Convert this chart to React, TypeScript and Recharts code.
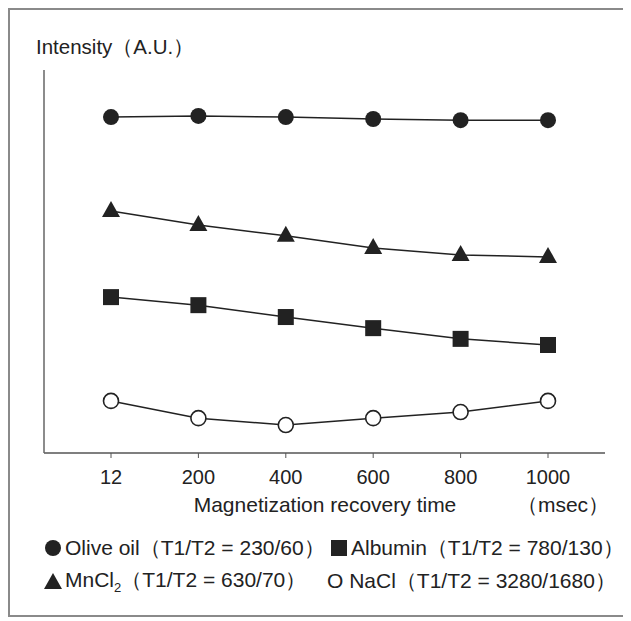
import React from "react";
import { LineChart, Line, XAxis, YAxis } from "recharts";

const times = ["12", "200", "400", "600", "800", "1000"];
const oliveOil = [87.7, 88.0, 87.7, 87.2, 86.9, 86.9];
const mnCl2 = [63.2, 59.5, 56.7, 53.5, 51.7, 51.2];
const albumin = [40.7, 38.6, 35.5, 32.6, 29.8, 28.2];
const naCl = [13.6, 9.1, 7.3, 9.1, 10.7, 13.6];

const data = times.map((t, i) => ({
  time: t,
  olive: oliveOil[i],
  mncl2: mnCl2[i],
  albumin: albumin[i],
  nacl: naCl[i],
}));

const ink = "#222";
const font = "'Liberation Sans', Arial, sans-serif";

const FilledCircle = (p: any) => (
  <circle key={p.index} cx={p.cx} cy={p.cy} r={8} fill={ink} />
);
const Square = (p: any) => (
  <rect key={p.index} x={p.cx - 8} y={p.cy - 8} width={16} height={16} fill={ink} />
);
const Triangle = (p: any) => (
  <path
    key={p.index}
    d={`M${p.cx},${p.cy - 10} L${p.cx + 9},${p.cy + 6} L${p.cx - 9},${p.cy + 6} Z`}
    fill={ink}
  />
);
const OpenCircle = (p: any) => (
  <circle key={p.index} cx={p.cx} cy={p.cy} r={7.5} fill="#fff" stroke={ink} strokeWidth={1.6} />
);

const XTitle = (props: any) => {
  const { x, y } = props.viewBox;
  return (
    <g fontFamily={font} fontSize={21} fill={ink}>
      <text x={x + 281} y={y + 59} textAnchor="middle">
        Magnetization recovery time
      </text>
      <text x={x + 519} y={y + 59} textAnchor="middle">
        （msec）
      </text>
    </g>
  );
};

const YTitle = (props: any) => {
  const { x, y } = props.viewBox;
  return (
    <text x={x + 2} y={y - 16} fontFamily={font} fontSize={20.5} fill={ink}>
      Intensity（A.U.）
    </text>
  );
};

const legendText: React.CSSProperties = {
  position: "absolute",
  fontFamily: font,
  fontSize: 21,
  color: ink,
  whiteSpace: "nowrap",
  display: "flex",
  alignItems: "center",
  height: 26,
};

export default function App() {
  return (
    <div
      style={{
        position: "relative",
        width: 621,
        height: 609,
        boxSizing: "border-box",
        border: "2px solid #8a8a8a",
        background: "#fff",
      }}
    >
      <LineChart
        width={617}
        height={520}
        data={data}
        margin={{ top: 60, right: 22, left: 24, bottom: 0 }}
      >
        <XAxis
          dataKey="time"
          height={77}
          padding={{ left: 67, right: 57 }}
          axisLine={{ stroke: "#555", strokeWidth: 1.5 }}
          tickLine={{ stroke: "#555" }}
          tickSize={5}
          tickMargin={12}
          tick={{ fontSize: 20, fill: ink, fontFamily: font }}
          label={<XTitle />}
        />
        <YAxis
          width={10}
          domain={[0, 100]}
          tick={false}
          tickLine={false}
          axisLine={{ stroke: "#666", strokeWidth: 1.5 }}
          label={<YTitle />}
        />
        <Line dataKey="olive" stroke={ink} strokeWidth={1.5} dot={FilledCircle} isAnimationActive={false} />
        <Line dataKey="mncl2" stroke={ink} strokeWidth={1.5} dot={Triangle} isAnimationActive={false} />
        <Line dataKey="albumin" stroke={ink} strokeWidth={1.5} dot={Square} isAnimationActive={false} />
        <Line dataKey="nacl" stroke={ink} strokeWidth={1.5} dot={OpenCircle} isAnimationActive={false} />
      </LineChart>
      <div style={{ ...legendText, left: 34, top: 525 }}>
        <svg width={18} height={18} style={{ marginRight: 3 }}>
          <circle cx={9} cy={9} r={8} fill={ink} />
        </svg>
        Olive oil（T1/T2 = 230/60）
      </div>
      <div style={{ ...legendText, left: 320, top: 525 }}>
        <svg width={18} height={18} style={{ marginRight: 3 }}>
          <rect x={1} y={1} width={16} height={16} fill={ink} />
        </svg>
        Albumin（T1/T2 = 780/130）
      </div>
      <div style={{ ...legendText, left: 33, top: 558 }}>
        <svg width={20} height={18} style={{ marginRight: 2 }}>
          <path d="M10,1 L19,17 L1,17 Z" fill={ink} />
        </svg>
        <span>
          MnCl<sub style={{ fontSize: 13 }}>2</sub>（T1/T2 = 630/70）
        </span>
      </div>
      <div style={{ ...legendText, left: 317, top: 558 }}>
        O NaCl（T1/T2 = 3280/1680）
      </div>
    </div>
  );
}
